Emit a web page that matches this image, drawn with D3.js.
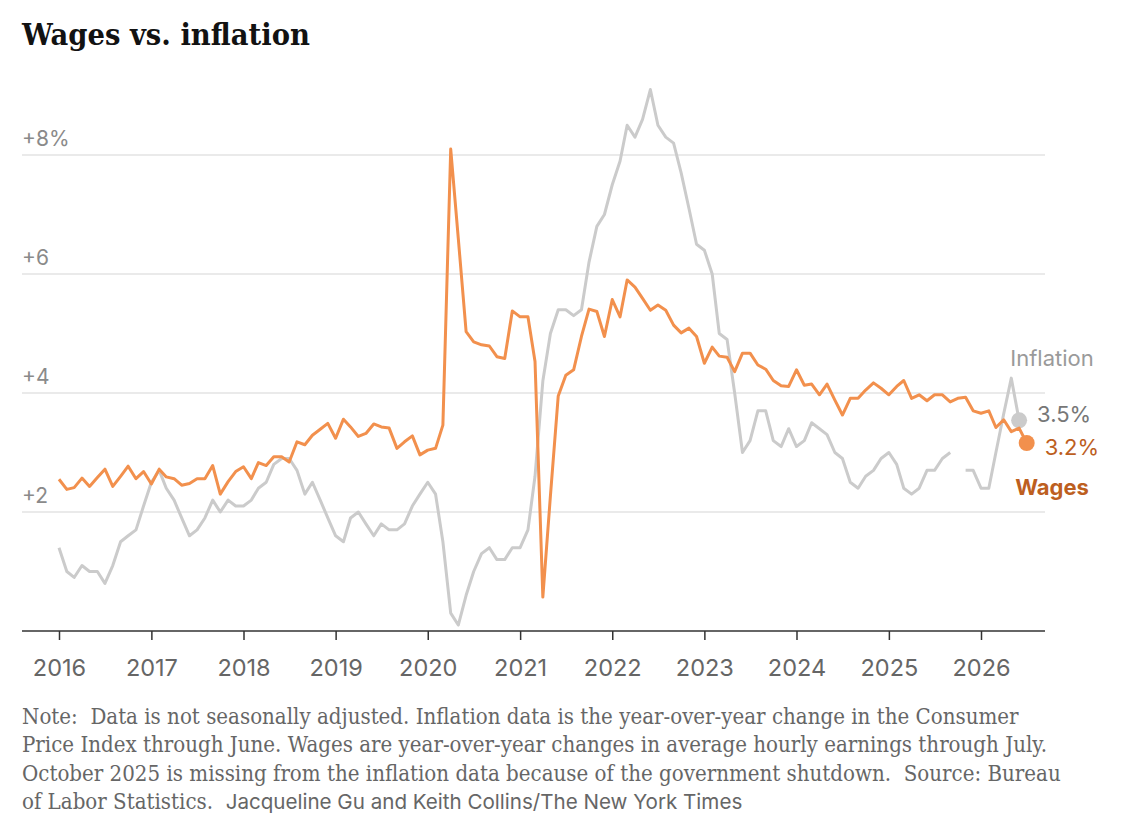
<!DOCTYPE html>
<html><head><meta charset="utf-8">
<script src="https://cdn.jsdelivr.net/npm/d3@7"></script>
<style>body{margin:0;background:#fff}</style>
</head><body>
<svg id="c" width="1122" height="826"></svg>
<script>
// Monthly series starting January 2016 (year-over-year %, not seasonally adjusted)
const inflation = [
  1.4, 1.0, 0.9, 1.1, 1.0, 1.0, 0.8, 1.1, 1.5, 1.6, 1.7, 2.1,   // 2016
  2.5, 2.7, 2.4, 2.2, 1.9, 1.6, 1.7, 1.9, 2.2, 2.0, 2.2, 2.1,   // 2017
  2.1, 2.2, 2.4, 2.5, 2.8, 2.9, 2.9, 2.7, 2.3, 2.5, 2.2, 1.9,   // 2018
  1.6, 1.5, 1.9, 2.0, 1.8, 1.6, 1.8, 1.7, 1.7, 1.8, 2.1, 2.3,   // 2019
  2.5, 2.3, 1.5, 0.3, 0.1, 0.6, 1.0, 1.3, 1.4, 1.2, 1.2, 1.4,   // 2020
  1.4, 1.7, 2.6, 4.2, 5.0, 5.4, 5.4, 5.3, 5.4, 6.2, 6.8, 7.0,   // 2021
  7.5, 7.9, 8.5, 8.3, 8.6, 9.1, 8.5, 8.3, 8.2, 7.7, 7.1, 6.5,   // 2022
  6.4, 6.0, 5.0, 4.9, 4.0, 3.0, 3.2, 3.7, 3.7, 3.2, 3.1, 3.4,   // 2023
  3.1, 3.2, 3.5, 3.4, 3.3, 3.0, 2.9, 2.5, 2.4, 2.6, 2.7, 2.9,   // 2024
  3.0, 2.8, 2.4, 2.3, 2.4, 2.7, 2.7, 2.9, 3.0, null, 2.7, 2.7,  // 2025 (Oct missing)
  2.4, 2.4, 3.0, 3.65, 4.25, 3.54                              // 2026 through June
];
const wages = [
  2.55, 2.38, 2.41, 2.57, 2.43, 2.58, 2.72, 2.43, 2.60, 2.77, 2.56, 2.68, // 2016
  2.47, 2.72, 2.59, 2.56, 2.45, 2.48, 2.56, 2.56, 2.78, 2.30, 2.51, 2.68, // 2017
  2.76, 2.56, 2.83, 2.78, 2.93, 2.93, 2.84, 3.18, 3.13, 3.29, 3.39, 3.49, // 2018
  3.24, 3.56, 3.43, 3.27, 3.32, 3.48, 3.43, 3.41, 3.07, 3.18, 3.28, 2.96, // 2019
  3.04, 3.07, 3.46, 8.10, 6.60, 5.03, 4.86, 4.81, 4.79, 4.61, 4.58, 5.38, // 2020
  5.28, 5.28, 4.53, 0.57, 2.27, 3.95, 4.30, 4.39, 4.95, 5.41, 5.37, 4.95, // 2021
  5.57, 5.28, 5.90, 5.78, 5.59, 5.39, 5.48, 5.39, 5.14, 5.01, 5.09, 4.95, // 2022
  4.50, 4.77, 4.62, 4.60, 4.36, 4.67, 4.67, 4.47, 4.40, 4.21, 4.12, 4.11, // 2023
  4.39, 4.13, 4.15, 3.97, 4.15, 3.88, 3.63, 3.91, 3.91, 4.05, 4.17, 4.08, // 2024
  3.97, 4.11, 4.21, 3.91, 3.97, 3.87, 3.97, 3.97, 3.85, 3.91, 3.93, 3.70, // 2025
  3.66, 3.70, 3.42, 3.55, 3.35, 3.41, 3.16                                // 2026 through July
];
const yTickValues = [2, 4, 6, 8];
const yTickLabels = ["+2", "+4", "+6", "+8%"];
const yearTicks = [2016, 2017, 2018, 2019, 2020, 2021, 2022, 2023, 2024, 2025, 2026];
const titleText = "Wages vs. inflation";
const seriesNames = { inflation: "Inflation", wages: "Wages" };
const noteLines = [
  "Note:\u00a0 Data is not seasonally adjusted. Inflation data is the year-over-year change in the Consumer",
  "Price Index through June. Wages are year-over-year changes in average hourly earnings through July.",
  "October 2025 is missing from the inflation data because of the government shutdown.\u00a0 Source: Bureau",
  "of Labor Statistics.\u00a0\u00a0"
];
const credit = "Jacqueline Gu and Keith Collins/The New York Times";

const SANS = "Inter, Roboto, 'Liberation Sans', sans-serif";
const SERIF = "'DejaVu Serif', serif";
const ORANGE = "#f2904d", ORANGE_DARK = "#bd5f1f", GREY = "#cbcbcb";

const svg = d3.select("#c");
const L = 22, R = 1045;
const monthDate = i => new Date(2016, i, 1);
const x = d3.scaleTime().domain([new Date(2016, 0, 1), new Date(2026, 0, 1)]).range([59, 981]);
const y = d3.scaleLinear().domain([0, 8]).range([631, 155]);

function fitWidth(sel, target) {
  const fs = parseFloat(sel.attr("font-size"));
  const w = sel.node().getComputedTextLength();
  sel.attr("font-size", (fs * target / w).toFixed(2));
}

// Title: fitted to the reference width, stretched vertically to its height
const title = svg.append("text").attr("x", 0).attr("y", 0)
  .attr("font-family", SERIF).attr("font-weight", "bold").attr("font-size", 26)
  .attr("fill", "#121212").text(titleText);
fitWidth(title, 288);
title.attr("transform", `translate(${L},45) scale(1,1.1)`);

// Gridlines
svg.append("g").selectAll("line").data(yTickValues).join("line")
  .attr("x1", L).attr("x2", R).attr("y1", d => y(d)).attr("y2", d => y(d))
  .attr("stroke", "#e3e3e3").attr("stroke-width", 1.3);
svg.append("g").selectAll("text").data(yTickValues).join("text")
  .attr("x", L).attr("y", d => y(d) - 9)
  .attr("font-family", SANS).attr("font-size", 21).attr("fill", "#8a8a8a")
  .text((d, i) => yTickLabels[i]);

// X axis
svg.append("line").attr("x1", L).attr("x2", R).attr("y1", y(0)).attr("y2", y(0))
  .attr("stroke", "#333").attr("stroke-width", 1.5);
const xAxis = svg.append("g").attr("transform", `translate(0,${y(0)})`)
  .call(d3.axisBottom(x).tickValues(yearTicks.map(v => new Date(v, 0, 1)))
    .tickFormat(d3.timeFormat("%Y")).tickSize(9).tickPadding(19));
xAxis.select(".domain").remove();
xAxis.selectAll(".tick line").attr("stroke", "#333").attr("stroke-width", 1.5);
xAxis.selectAll(".tick text").attr("font-family", SANS).attr("font-size", 23.5).attr("fill", "#666");

// Lines
const line = d3.line().defined(d => d.v != null).x(d => x(d.date)).y(d => y(d.v));
const infData = inflation.map((v, i) => ({ date: monthDate(i), v }));
const wageData = wages.map((v, i) => ({ date: monthDate(i), v }));

svg.append("path").datum(infData).attr("d", line).attr("fill", "none")
  .attr("stroke", GREY).attr("stroke-width", 3).attr("stroke-linejoin", "round");
const infLast = infData[infData.length - 1];
svg.append("circle").attr("cx", x(infLast.date)).attr("cy", y(infLast.v)).attr("r", 8).attr("fill", GREY);

svg.append("path").datum(wageData).attr("d", line).attr("fill", "none")
  .attr("stroke", ORANGE).attr("stroke-width", 3).attr("stroke-linejoin", "round");
const wageLast = wageData[wageData.length - 1];
svg.append("circle").attr("cx", x(wageLast.date)).attr("cy", y(wageLast.v)).attr("r", 8).attr("fill", ORANGE);

// End labels
const fmt = v => v.toFixed(1) + "%";
svg.append("text").attr("x", x(infLast.date) + 18).attr("y", y(infLast.v) + 2)
  .attr("font-family", SANS).attr("font-size", 22).attr("fill", "#777").text(fmt(infLast.v));
svg.append("text").attr("x", x(wageLast.date) + 18).attr("y", y(wageLast.v) + 12)
  .attr("font-family", SANS).attr("font-size", 22).attr("fill", ORANGE_DARK).text(fmt(wageLast.v));
svg.append("text").attr("x", 1052).attr("y", 366).attr("text-anchor", "middle")
  .attr("font-family", SANS).attr("font-size", 22).attr("fill", "#9a9a9a").text(seriesNames.inflation);
svg.append("text").attr("x", 1052).attr("y", 495).attr("text-anchor", "middle")
  .attr("font-family", SANS).attr("font-weight", "bold").attr("font-size", 22)
  .attr("fill", ORANGE_DARK).text(seriesNames.wages);

// Note: DejaVu Serif fitted to the reference line width, stretched vertically to its height
const note = svg.append("g");
const noteTexts = note.selectAll("text").data(noteLines).join("text")
  .attr("x", 0).attr("y", 0)
  .attr("font-family", SERIF).attr("font-size", 19).attr("fill", "#666")
  .text(d => d);
const w2 = noteTexts.nodes()[1].getComputedTextLength();
const noteFs = 19 * 1026 / w2;
noteTexts.attr("font-size", noteFs.toFixed(2))
  .attr("transform", (d, i) => `translate(${L},${724 + i * 28.3}) scale(1,${(21.5 / noteFs).toFixed(3)})`);
const w4 = noteTexts.nodes()[3].getComputedTextLength();
const cr = note.append("text").attr("x", L + w4).attr("y", 724 + 3 * 28.3)
  .attr("font-family", SANS).attr("font-size", 20).attr("fill", "#666").text(credit);
fitWidth(cr, 517);
</script>
</body></html>
